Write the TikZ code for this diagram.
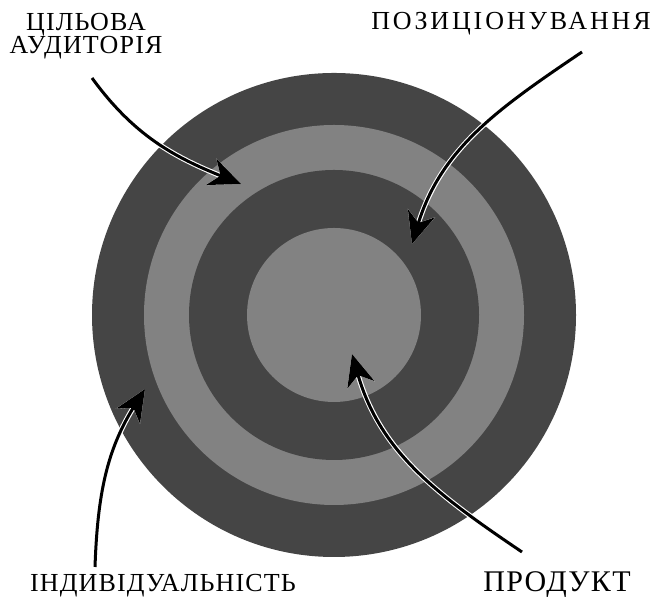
\documentclass[tikz,border=0pt]{standalone}
\usepackage{fontspec}
\setmainfont{Liberation Serif}
\newfontfamily\labfont[LetterSpace=4.5]{Liberation Serif}
\newfontfamily\widefont[LetterSpace=11]{Liberation Serif}
\usetikzlibrary{arrows.meta}

\begin{document}
\begin{tikzpicture}[
    x=0.5pt, y=0.5pt,
    darkring/.style={fill=black!73},
    lightring/.style={fill=black!49},
    label/.style={font=\labfont\fontsize{13}{11.5}\selectfont, align=center, inner sep=0pt},
    pointer/.style={-{Stealth[length=16pt,width=14pt,inset=5pt]}, line width=1.5pt, black,
        preaction={draw=white, line width=2.6pt, -{Stealth[length=16pt,width=14pt,inset=5pt]}}}
]
\useasboundingbox (0,0) rectangle (653,597);
% ---------- target ----------
\coordinate (c) at (334,282);
\fill[darkring]  (c) circle (242);
\fill[lightring] (c) circle (190);
\fill[darkring]  (c) circle (145);
\fill[lightring] (c) circle (87);
% ---------- labels ----------
\node[label] (aud) at (86,561) {ЦІЛЬОВА\\АУДИТОРІЯ};
\node[label, font=\widefont\fontsize{13}{11.5}\selectfont] (poz) at (511,573) {ПОЗИЦІОНУВАННЯ};
\node[label] (ind) at (163,11) {ІНДИВІДУАЛЬНІСТЬ};
\node[label, font=\labfont\fontsize{15}{15}\selectfont] (prod) at (557,12) {ПРОДУКТ};
% ---------- arrows ----------
\coordinate (s1) at (92,519);  \coordinate (t1) at (241,413);
\coordinate (s2) at (582,545); \coordinate (t2) at (412,353);
\coordinate (s3) at (95,30);   \coordinate (t3) at (145,208);
\coordinate (s4) at (522,45);  \coordinate (t4) at (352,243);
\draw[pointer] (s1) to[out=-54, in=158] (t1);
\draw[pointer] (s2) to[out=214, in=73] (t2);
\draw[pointer] (s3) to[out=88, in=238] (t3);
\draw[pointer] (s4) to[out=146, in=286] (t4);
\end{tikzpicture}
\end{document}
